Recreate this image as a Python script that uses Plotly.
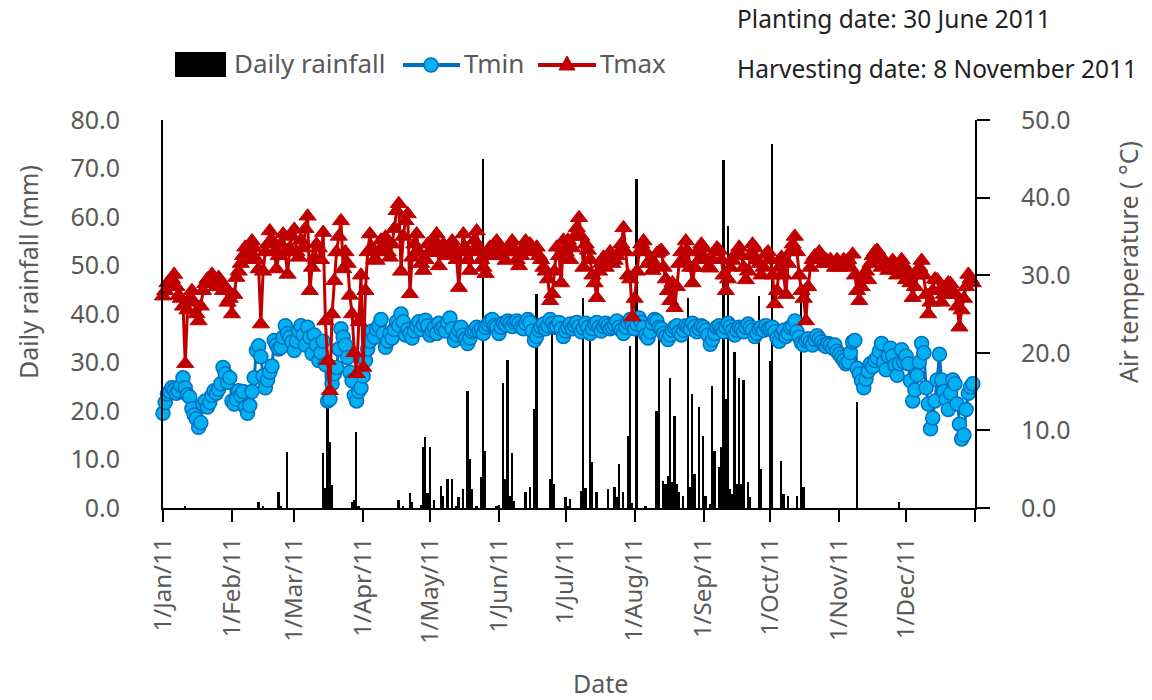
import pandas as pd
import plotly.graph_objects as go

# ---------------- data ----------------
year_start = "2011-01-01"

# Daily minimum air temperature (°C), month by month
tmin_jan = [12.2, 13.6, 14.7, 15.0, 15.5, 15.2, 14.8, 15.1, 15.8, 16.8, 15.5, 14.6, 14.3, 12.8, 12.0, 11.5,
            10.4, 11.0, 13.4, 13.8, 13.0, 13.6, 14.5, 15.1, 14.8, 15.3, 16.0, 18.1, 17.3, 16.2, 16.8]
tmin_feb = [13.8, 13.4, 14.0, 15.1, 14.5, 15.0, 13.0, 12.2, 13.2, 15.0, 16.8, 20.3, 20.9, 19.5, 17.0, 15.5,
            16.5, 17.5, 18.3, 21.6, 21.0, 20.5, 20.7, 22.0, 23.5, 22.5, 22.0, 21.4]
tmin_mar = [20.3, 21.5, 22.8, 23.5, 22.3, 21.0, 23.3, 22.0, 19.9, 22.3, 21.0, 19.0, 20.0, 21.5, 18.5, 13.8,
            14.0, 16.0, 17.3, 18.1, 20.5, 23.1, 22.0, 21.0, 19.4, 17.5, 16.4, 14.5, 13.8, 15.0, 15.5]
tmin_apr = [17.0, 19.0, 20.5, 21.5, 22.8, 22.0, 23.0, 23.5, 24.3, 22.5, 20.7, 21.5, 22.5, 21.9, 23.0, 24.0,
            23.5, 25.0, 24.0, 22.3, 23.0, 22.5, 21.9, 22.8, 23.5, 24.0, 23.0, 23.6, 24.2, 23.5]
tmin_may = [22.3, 22.8, 23.3, 22.5, 23.8, 23.1, 23.3, 22.8, 23.9, 24.5, 23.1, 21.6, 22.3, 22.9, 23.3, 22.3,
            21.8, 21.2, 21.9, 22.7, 22.9, 23.3, 22.8, 23.1, 22.5, 23.3, 23.7, 24.1, 24.3, 23.5, 23.3]
tmin_jun = [22.5, 23.3, 23.8, 23.6, 24.1, 23.8, 23.4, 23.9, 24.1, 23.8, 23.3, 23.1, 23.8, 24.3, 23.9, 22.8,
            21.6, 22.1, 22.9, 23.3, 23.7, 23.1, 23.5, 24.3, 23.8, 23.3, 23.4, 23.9, 23.1, 22.1]
tmin_jul = [22.8, 23.3, 23.7, 23.1, 23.5, 23.9, 23.4, 22.7, 23.2, 23.8, 23.3, 22.5, 23.1, 23.7, 23.9, 23.3,
            22.8, 23.4, 23.8, 23.5, 23.1, 23.3, 23.6, 24.1, 23.3, 22.9, 22.5, 23.3, 23.9, 24.3, 23.5]
tmin_aug = [23.1, 23.7, 24.5, 23.9, 23.3, 22.3, 21.9, 22.7, 23.8, 24.3, 24.1, 23.3, 23.1, 22.5, 22.1, 21.7,
            22.3, 22.9, 23.3, 23.5, 22.7, 22.3, 22.9, 23.5, 23.3, 23.1, 23.8, 23.4, 22.7, 23.1, 23.5]
tmin_sep = [23.3, 22.9, 22.3, 21.1, 21.7, 22.5, 23.3, 23.5, 23.1, 22.7, 23.3, 23.8, 23.4, 22.9, 22.3, 22.9,
            23.3, 23.1, 22.7, 23.3, 23.7, 23.3, 22.9, 22.1, 22.5, 23.1, 23.3, 22.9, 23.5, 23.1]
tmin_oct = [23.1, 23.3, 22.7, 21.9, 21.5, 22.5, 22.9, 22.1, 22.5, 23.3, 23.5, 24.1, 22.7, 22.0, 21.3, 21.0,
            21.6, 21.8, 21.4, 21.0, 21.7, 22.2, 21.8, 21.4, 21.0, 20.8, 21.2, 21.0, 20.6, 21.0, 20.2]
tmin_nov = [19.8, 19.4, 19.0, 18.6, 18.8, 20.0, 21.4, 21.6, 18.0, 17.3, 16.4, 15.5, 16.6, 17.6, 18.6, 18.2,
            19.0, 19.4, 20.2, 21.2, 18.8, 17.8, 19.6, 20.6, 19.6, 18.4, 17.1, 18.6, 20.4, 18.8]
tmin_dec = [19.6, 18.6, 16.4, 13.8, 15.2, 17.1, 18.8, 21.2, 20.0, 15.5, 13.4, 10.2, 11.6, 13.8, 16.5, 19.8,
            16.5, 15.0, 14.0, 12.7, 14.8, 16.5, 16.0, 13.4, 10.8, 8.9, 9.4, 12.7, 14.8, 15.6, 16.0]

# Daily maximum air temperature (°C), month by month
tmax_jan = [27.3, 28.0, 29.0, 28.5, 29.5, 30.1, 28.5, 27.4, 27.0, 26.0, 18.6, 25.5, 27.0, 28.0, 26.5, 25.0,
            24.1, 26.0, 28.0, 28.9, 29.5, 29.0, 30.1, 29.5, 28.5, 29.7, 29.0, 28.0, 28.5, 26.5, 27.0]
tmax_feb = [25.0, 27.5, 29.7, 30.5, 31.5, 32.5, 33.6, 33.0, 32.0, 34.4, 33.5, 32.0, 30.8, 23.7, 30.5, 33.0,
            34.0, 35.7, 34.5, 33.0, 30.8, 32.5, 34.0, 35.3, 33.0, 30.1, 33.5, 35.0]
tmax_mar = [35.9, 33.0, 32.3, 34.5, 33.5, 36.0, 37.6, 28.0, 31.0, 32.3, 34.0, 33.5, 32.0, 35.5, 24.1, 19.0,
            15.1, 25.0, 29.3, 33.0, 35.0, 37.0, 30.8, 33.0, 31.5, 27.4, 25.0, 20.0, 17.3, 24.0, 30.0]
tmax_apr = [18.1, 28.0, 33.0, 35.3, 33.5, 32.0, 31.9, 33.0, 34.5, 33.8, 34.9, 33.0, 32.3, 34.0, 36.0, 38.3,
            39.2, 30.5, 35.0, 37.0, 37.9, 27.6, 32.3, 34.0, 35.3, 33.0, 31.5, 30.6, 32.0, 34.0]
tmax_may = [32.9, 33.5, 34.5, 35.3, 31.2, 33.0, 34.0, 33.5, 32.5, 33.0, 34.4, 33.5, 32.0, 28.4, 33.0, 35.3,
            33.5, 32.0, 30.6, 33.0, 34.5, 35.7, 33.5, 32.0, 31.0, 30.2, 32.5, 33.6, 33.0, 34.0, 34.4]
tmax_jun = [33.5, 32.5, 33.0, 31.9, 33.0, 34.0, 34.4, 33.0, 32.0, 31.2, 32.5, 33.5, 34.4, 33.0, 34.0, 33.5,
            33.0, 33.6, 32.5, 32.0, 31.0, 30.5, 29.5, 26.7, 27.6, 30.5, 33.6, 32.5, 29.0, 34.5]
tmax_jul = [33.0, 34.5, 32.0, 33.5, 35.0, 36.1, 37.4, 35.0, 31.0, 34.0, 33.2, 32.0, 30.0, 29.0, 27.1, 30.5,
            31.5, 32.3, 31.0, 32.5, 33.0, 31.5, 31.9, 32.5, 33.0, 34.0, 36.1, 33.0, 30.0, 29.5, 24.6]
tmax_aug = [27.0, 30.5, 33.0, 34.0, 34.4, 33.0, 31.5, 32.0, 30.6, 31.5, 32.8, 33.0, 33.2, 31.0, 29.5, 28.0,
            26.7, 29.0, 25.8, 28.5, 31.5, 33.0, 32.0, 34.4, 33.0, 31.0, 29.0, 31.0, 33.0, 32.0, 34.0]
tmax_sep = [33.5, 32.0, 31.0, 30.9, 32.0, 33.0, 33.5, 33.2, 32.0, 30.0, 28.0, 29.5, 31.0, 31.9, 32.5, 33.0,
            33.6, 32.5, 31.0, 29.4, 30.5, 32.5, 34.0, 33.5, 32.0, 31.5, 30.0, 31.0, 32.7, 33.0]
tmax_oct = [32.0, 30.0, 26.3, 28.0, 31.0, 32.3, 30.0, 27.5, 31.5, 33.0, 34.0, 35.0, 33.0, 30.0, 28.0, 27.0,
            24.1, 28.5, 31.0, 32.0, 32.5, 32.3, 33.0, 32.0, 31.5, 32.0, 31.5, 32.0, 31.5, 31.0, 32.0]
tmax_nov = [31.0, 31.5, 32.0, 31.5, 32.0, 31.0, 32.7, 30.0, 28.0, 26.7, 28.5, 29.5, 30.5, 29.4, 31.5, 32.5,
            33.0, 33.2, 32.0, 31.0, 32.0, 31.5, 30.6, 31.0, 31.9, 31.0, 30.0, 31.5, 32.0, 31.0]
tmax_dec = [29.4, 30.5, 29.0, 27.1, 28.5, 30.0, 31.0, 31.9, 30.0, 27.5, 25.0, 26.5, 28.0, 29.5, 29.4, 28.0,
            26.5, 27.5, 28.5, 29.0, 28.9, 28.0, 27.5, 26.0, 23.3, 25.5, 27.0, 28.5, 30.1, 29.5, 29.0]

# Rain days and daily rainfall (mm)
rain_dates = [
    "2011-01-11", "2011-02-13", "2011-02-15", "2011-02-22", "2011-02-23", "2011-02-26",
    "2011-03-14", "2011-03-15", "2011-03-16", "2011-03-17", "2011-03-18", "2011-03-27",
    "2011-03-28", "2011-03-29", "2011-03-30", "2011-04-17", "2011-04-19", "2011-04-22",
    "2011-04-23", "2011-04-27", "2011-04-28", "2011-04-29", "2011-04-30", "2011-05-01",
    "2011-05-03", "2011-05-06", "2011-05-07", "2011-05-09", "2011-05-11", "2011-05-13",
    "2011-05-14", "2011-05-16", "2011-05-18", "2011-05-19", "2011-05-20", "2011-05-22",
    "2011-05-24", "2011-05-25", "2011-05-26", "2011-05-31", "2011-06-01", "2011-06-03",
    "2011-06-04", "2011-06-05", "2011-06-06", "2011-06-07", "2011-06-08", "2011-06-13",
    "2011-06-15", "2011-06-17", "2011-06-18", "2011-06-24", "2011-06-25", "2011-06-26",
    "2011-07-01", "2011-07-02", "2011-07-03", "2011-07-08", "2011-07-09", "2011-07-10",
    "2011-07-12", "2011-07-13", "2011-07-15", "2011-07-20", "2011-07-23", "2011-07-24",
    "2011-07-25", "2011-07-27", "2011-07-29", "2011-07-30", "2011-07-31", "2011-08-02",
    "2011-08-06", "2011-08-11", "2011-08-12", "2011-08-14", "2011-08-15", "2011-08-16",
    "2011-08-17", "2011-08-18", "2011-08-19", "2011-08-20", "2011-08-21", "2011-08-23",
    "2011-08-25", "2011-08-26", "2011-08-27", "2011-08-28", "2011-08-30", "2011-09-01",
    "2011-09-02", "2011-09-04", "2011-09-05", "2011-09-06", "2011-09-08", "2011-09-09",
    "2011-09-10", "2011-09-11", "2011-09-12", "2011-09-13", "2011-09-14", "2011-09-15",
    "2011-09-16", "2011-09-17", "2011-09-18", "2011-09-19", "2011-09-21", "2011-09-22",
    "2011-09-26", "2011-09-27", "2011-10-01", "2011-10-02", "2011-10-06", "2011-10-07",
    "2011-10-09", "2011-10-13", "2011-10-15", "2011-10-16", "2011-11-09", "2011-11-28",
]
rain_mm = [
    0.3, 1.3, 0.5, 3.2, 0.4, 11.6,
    11.3, 4.1, 22.0, 13.7, 4.8, 1.3,
    1.7, 15.7, 0.5, 1.7, 0.3, 3.0,
    1.3, 0.7, 12.6, 14.6, 3.0, 12.6,
    1.6, 4.6, 2.5, 6.0, 6.0, 0.3,
    2.3, 3.9, 24.2, 10.1, 3.9, 0.3,
    6.3, 72.0, 11.8, 0.4, 0.7, 25.7,
    6.0, 30.5, 2.5, 11.3, 1.5, 3.2,
    4.3, 20.4, 44.2, 6.0, 40.0, 4.9,
    2.2, 0.5, 1.9, 3.5, 43.4, 4.2,
    35.5, 9.4, 3.2, 3.9, 4.3, 2.2,
    9.1, 3.2, 14.9, 33.5, 1.0, 67.8,
    0.3, 20.1, 35.2, 5.6, 4.9, 6.7,
    26.9, 5.3, 19.0, 4.9, 3.2, 2.5,
    43.4, 4.3, 23.6, 7.0, 20.8, 14.9,
    2.5, 0.8, 25.2, 11.8, 8.4, 12.5,
    71.7, 22.5, 58.2, 3.9, 2.9, 32.1,
    4.9, 26.8, 4.9, 26.3, 5.3, 2.2,
    43.8, 8.0, 30.4, 75.0, 9.7, 2.9,
    2.5, 2.5, 43.4, 4.3, 21.8, 1.2,
]

month_ticks = ["2011-01-01", "2011-02-01", "2011-03-01", "2011-04-01", "2011-05-01", "2011-06-01",
               "2011-07-01", "2011-08-01", "2011-09-01", "2011-10-01", "2011-11-01", "2011-12-01",
               "2012-01-01"]
month_labels = ["1/Jan/11", "1/Feb/11", "1/Mar/11", "1/Apr/11", "1/May/11", "1/Jun/11",
                "1/Jul/11", "1/Aug/11", "1/Sep/11", "1/Oct/11", "1/Nov/11", "1/Dec/11", ""]

tmin = (tmin_jan + tmin_feb + tmin_mar + tmin_apr + tmin_may + tmin_jun +
        tmin_jul + tmin_aug + tmin_sep + tmin_oct + tmin_nov + tmin_dec)
tmax = (tmax_jan + tmax_feb + tmax_mar + tmax_apr + tmax_may + tmax_jun +
        tmax_jul + tmax_aug + tmax_sep + tmax_oct + tmax_nov + tmax_dec)
days = pd.date_range(year_start, periods=len(tmin), freq="D")

# ---------------- styling ----------------
FONT = "Noto Sans"
GREY = "#595959"
BLUE_LINE = "#0070C0"
BLUE_FILL = "#00B0F0"
RED = "#C00000"

W, H = 1152, 700
L, R, T, B = 163, 177, 120, 192
PW, PH = W - L - R, H - T - B


def px(x):
    return (x - L) / PW


def py(y):
    return (H - B - y) / PH


fig = go.Figure()

fig.add_trace(go.Bar(
    x=pd.to_datetime(rain_dates), y=rain_mm, name="Daily rainfall",
    marker=dict(color="black", line=dict(width=0)),
    width=0.8 * 86400000, showlegend=False,
))
fig.add_trace(go.Scatter(
    x=days, y=tmin, name="Tmin", yaxis="y2", mode="lines+markers",
    line=dict(color=BLUE_LINE, width=3),
    marker=dict(symbol="circle", size=14, color=BLUE_FILL, line=dict(color=BLUE_LINE, width=1.5)),
    cliponaxis=False, showlegend=False,
))
fig.add_trace(go.Scatter(
    x=days, y=tmax, name="Tmax", yaxis="y2", mode="lines+markers",
    line=dict(color=RED, width=3),
    marker=dict(symbol="triangle-up", size=15, color=RED, line=dict(color=RED, width=1)),
    cliponaxis=False, showlegend=False,
))

# legend keys drawn above the plot
shapes = [
    dict(type="rect", xref="paper", yref="paper", x0=px(175), x1=px(226), y0=py(77), y1=py(52),
         fillcolor="black", line=dict(width=0)),
    dict(type="line", xref="paper", yref="paper", x0=px(403), x1=px(460), y0=py(65), y1=py(65),
         line=dict(color=BLUE_LINE, width=4)),
    dict(type="circle", xref="paper", yref="paper", xsizemode="pixel", ysizemode="pixel",
         xanchor=px(431), yanchor=py(65), x0=-7, x1=7, y0=-7, y1=7,
         fillcolor=BLUE_FILL, line=dict(color=BLUE_LINE, width=1.5)),
    dict(type="line", xref="paper", yref="paper", x0=px(538), x1=px(596), y0=py(65), y1=py(65),
         line=dict(color=RED, width=4)),
    dict(type="path", xref="paper", yref="paper", xsizemode="pixel", ysizemode="pixel",
         xanchor=px(567), yanchor=py(65), path="M-8,-5 L8,-5 L0,9 Z",
         fillcolor=RED, line=dict(color=RED, width=1)),
]

annotations = [
    dict(text="Daily rainfall", x=px(232), y=py(63), xref="paper", yref="paper",
         xanchor="left", yanchor="middle", showarrow=False, font=dict(size=26, color=GREY, family=FONT)),
    dict(text="Tmin", x=px(462), y=py(63), xref="paper", yref="paper",
         xanchor="left", yanchor="middle", showarrow=False, font=dict(size=26, color=GREY, family=FONT)),
    dict(text="Tmax", x=px(598), y=py(63), xref="paper", yref="paper",
         xanchor="left", yanchor="middle", showarrow=False, font=dict(size=26, color=GREY, family=FONT)),
    dict(text="Planting date: 30 June 2011", x=px(735), y=py(18), xref="paper", yref="paper",
         xanchor="left", yanchor="middle", showarrow=False, font=dict(size=24.5, color="#222222", family=FONT)),
    dict(text="Harvesting date: 8 November 2011", x=px(735), y=py(68), xref="paper", yref="paper",
         xanchor="left", yanchor="middle", showarrow=False, font=dict(size=24.5, color="#222222", family=FONT)),
    dict(text="Daily rainfall (mm)", x=px(28), y=py(272), xref="paper", yref="paper", textangle=-90,
         xanchor="center", yanchor="middle", showarrow=False, font=dict(size=25, color=GREY, family=FONT)),
    dict(text="Air temperature ( °C)", x=px(1128), y=py(262), xref="paper", yref="paper", textangle=-90,
         xanchor="center", yanchor="middle", showarrow=False, font=dict(size=25, color=GREY, family=FONT)),
    dict(text="Date", x=px(600), y=py(683), xref="paper", yref="paper",
         xanchor="center", yanchor="middle", showarrow=False, font=dict(size=25, color=GREY, family=FONT)),
]

fig.update_layout(
    width=W, height=H,
    margin=dict(l=L, r=R, t=T, b=B),
    paper_bgcolor="white", plot_bgcolor="white",
    font=dict(family=FONT, color=GREY),
    bargap=0, showlegend=False,
    shapes=shapes, annotations=annotations,
    xaxis=dict(
        type="date", range=["2011-01-01", "2012-01-01"],
        tickvals=month_ticks, ticktext=month_labels, tickangle=-90,
        ticks="outside", ticklen=12, tickwidth=2, tickcolor="black",
        showline=True, linecolor="black", linewidth=2,
        showgrid=False, zeroline=False,
        tickfont=dict(size=24, color=GREY, family=FONT),
        ticklabelstandoff=6,
    ),
    yaxis=dict(
        range=[0, 80], tickvals=[0, 10, 20, 30, 40, 50, 60, 70, 80], tickformat=".1f",
        showline=True, linecolor="black", linewidth=2, ticks="",
        showgrid=False, zeroline=False,
        tickfont=dict(size=25, color=GREY, family=FONT),
        ticklabelstandoff=36,
    ),
    yaxis2=dict(
        range=[0, 50], tickvals=[0, 10, 20, 30, 40, 50], tickformat=".1f",
        overlaying="y", side="right", anchor="x",
        showline=True, linecolor="black", linewidth=2,
        ticks="outside", ticklen=13, tickwidth=2, tickcolor="black",
        showgrid=False, zeroline=False,
        tickfont=dict(size=25, color=GREY, family=FONT),
        ticklabelstandoff=26,
    ),
)

fig.write_html("out.html")
